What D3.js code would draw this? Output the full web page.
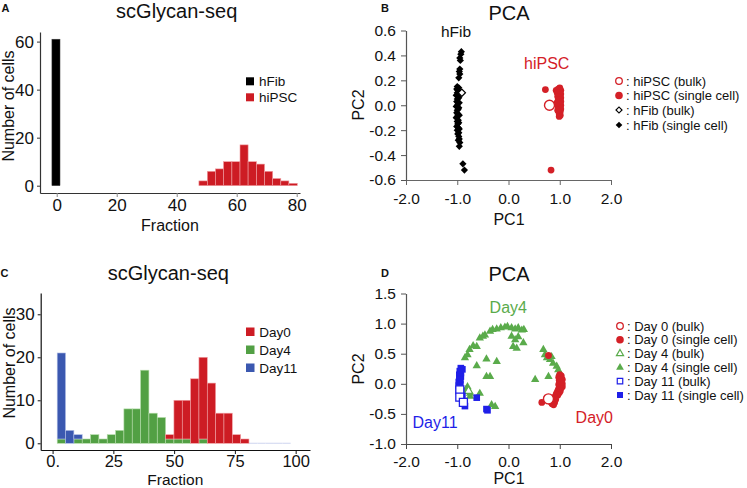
<!DOCTYPE html>
<html><head><meta charset="utf-8">
<script src="https://cdn.jsdelivr.net/npm/d3@7"></script>
<style>
body{margin:0;background:#fff}
svg{display:block}
text{font-family:"Liberation Sans",Arial,sans-serif}
</style>
</head><body>
<svg id="c" width="747" height="488"></svg>
<script>
// ---------------- DATA ----------------
// Panel A: histogram (fraction bins)
const aFibEdges = [-1.6, 1.1];
const aFibCounts = [61];
const aPscEdges = [47.4, 50.2, 52.9, 55.6, 58.4, 61.1, 63.8, 66.6, 69.3, 72.0, 74.7, 77.4, 80.2];
const aPscCounts = [2, 6, 7, 10, 10, 17, 10, 9, 6, 3, 2, 1];
const aXTicks = [0, 20, 40, 60, 80];
const aYTicks = [0, 20, 40, 60];
const aLegend = ["hFib", "hiPSC"];

// Panel B: PCA hFib / hiPSC
const bFibSingle = [[-0.92,0.43],[-0.93,0.41],[-0.95,0.38],[-0.94,0.36],[-0.95,0.29],[-0.96,0.27],[-0.95,0.25],[-0.97,0.22],
  [-1.0,0.15],[-1.01,0.13],[-0.99,0.12],[-1.0,0.10],[-1.02,0.08],[-0.98,0.07],[-1.0,0.05],[-1.01,0.03],[-0.99,0.02],[-1.0,0.0],
  [-1.02,-0.01],[-0.98,-0.03],[-1.0,-0.04],[-1.01,-0.06],[-0.99,-0.07],[-1.0,-0.09],[-1.02,-0.1],[-0.98,-0.12],[-1.0,-0.13],
  [-0.99,-0.15],[-1.01,-0.17],[-0.98,-0.18],[-1.0,-0.2],[-0.97,-0.22],[-0.99,-0.23],[-0.97,-0.25],[-0.96,-0.27],[-0.98,-0.28],
  [-0.95,-0.3],[-0.96,-0.33],[-0.89,-0.47],[-0.86,-0.52],[-0.97,0.14],[-0.96,0.10],[-0.97,0.06],[-0.96,0.02],[-0.97,-0.02],
  [-0.96,-0.08],[-0.97,-0.14],[-0.96,-0.19]];
const bFibBulk = [[-0.91,0.10]];
const bPscSingle = [[0.72,0.126],[0.83,-0.52],[0.93,0.12],[0.97,0.13],[1.0,0.14],[1.02,0.12],[0.95,0.1],[0.99,0.1],[1.02,0.09],
  [0.96,0.07],[1.0,0.07],[1.02,0.06],[0.97,0.04],[1.0,0.04],[1.02,0.03],[0.97,0.01],[1.0,0.01],[1.02,0.0],[0.97,-0.02],
  [1.0,-0.02],[1.02,-0.03],[0.98,-0.05],[1.01,-0.05],[0.99,-0.07],[1.01,-0.08],[0.99,-0.09],[0.96,-0.04],[0.95,0.02]];
const bPscBulk = [[0.80,0.0]];
const pcXTicks = [-2, -1, 0, 1, 2];
const bYTicks = [-0.6, -0.4, -0.2, 0, 0.2, 0.4, 0.6];
const bLegend = [": hiPSC (bulk)", ": hiPSC (single cell)", ": hFib (bulk)", ": hFib (single cell)"];

// Panel C: stacked histogram (bottom -> top: Day4, Day11, Day0)
const cEdges = [1.9,5.33,8.76,12.19,15.62,19.05,22.48,25.91,29.34,32.77,36.2,39.63,43.06,46.49,49.92,53.35,56.78,60.21,63.64,67.07,70.5,73.93,77.36,80.79,84.22,87.65,91.08,94.51,97.94];
const cDay4  = [1,0,1,1,2,1,2,3,8,8,17,7,6,1,1,1,0,1,0,0,0,0,0,0,0,0,0,0];
const cDay11 = [20,3,1,0,0,0,0,0,0,0,0,0,0,0,0,0,0,0,0,0,0,0,0,0,0,0,0,0];
const cDay0  = [0,0,0,0,0,0,0,0,0,0,0,0,0,1,9,9,15,19,14,7,7,2,1,0,0,0,0,0];
const cXTicks = [0, 25, 50, 75, 100];
const cXLabels = ["0.", "25", "50", "75", "100"];
const cYTicks = [0, 10, 20, 30];
const cLegend = ["Day0", "Day4", "Day11"];

// Panel D: PCA time course
const dDay0Single = [[1.0,0.15],[1.03,0.13],[0.98,0.11],[1.02,0.09],[1.05,0.07],[0.99,0.06],[1.03,0.04],[1.0,0.02],[1.05,0.0],
  [0.98,-0.01],[1.02,-0.03],[1.05,-0.05],[0.99,-0.06],[1.02,-0.08],[0.97,-0.1],[1.01,-0.12],[0.95,-0.14],[0.99,-0.15],
  [0.93,-0.17],[0.96,-0.19],[0.9,-0.22],[0.92,-0.26],[0.88,-0.28],[0.9,-0.31],[0.85,-0.33],[0.88,-0.35],[0.82,-0.3],
  [0.65,-0.31],[0.78,0.47]];
const dDay0Bulk = [[0.78,-0.25]];
const dDay4Single = [[-0.85,0.43],[-0.8,0.48],[-0.76,0.57],[-0.69,0.63],[-0.62,0.62],[-0.56,0.76],[-0.5,0.79],[-0.46,0.81],
  [-0.36,0.87],[-0.31,0.9],[-0.23,0.91],[-0.15,0.93],[-0.07,0.94],[-0.02,0.95],[0.06,0.93],[0.13,0.91],[0.19,0.93],[0.26,0.89],
  [0.3,0.9],[0.06,0.79],[0.13,0.73],[0.19,0.78],[0.09,0.62],[0.16,0.59],[0.29,0.68],[-0.8,-0.05],[-0.75,-0.16],[-0.56,-0.16],
  [-0.43,0.12],[-0.36,0.12],[-0.43,0.41],[-0.23,0.37],[-0.62,0.3],[-0.33,-0.35],[-0.26,-0.38],[0.52,0.07],[0.78,0.12],
  [0.68,0.57],[0.71,0.48],[0.81,0.4],[0.87,0.34],[0.94,0.29],[0.97,0.23],[1.0,0.18],[0.75,0.43],[0.84,0.45],[-0.75,-0.21],[-0.83,-0.1]];
const dDay4Bulk = [[-0.78,-0.12]];
const dDay11Single = [[-0.93,0.26],[-0.9,0.24],[-0.95,0.21],[-0.93,0.18],[-0.96,0.15],[-0.93,0.12],[-0.96,0.09],[-0.94,0.06],
  [-0.97,0.03],[-0.94,0.0],[-0.97,-0.03],[-0.95,-0.06],[-0.97,-0.09],[-0.93,-0.12],[-0.85,-0.37],[-0.88,-0.33],[-0.62,-0.23],
  [-0.41,-0.44],[-0.43,-0.42],[-0.9,-0.2]];
const dDay11Bulk = [[-0.95,-0.1],[-0.95,-0.22],[-0.88,-0.31]];
const dYTicks = [-1, -0.5, 0, 0.5, 1, 1.5];
const dLegend = [": Day 0 (bulk)", ": Day 0 (single cell)", ": Day 4 (bulk)", ": Day 4 (single cell)", ": Day 11 (bulk)", ": Day 11 (single cell)"];

// ---------------- STYLE ----------------
const RED = "#cd1c24", RED_L = "#f0a0a4";
const GREEN = "#52a044", GREEN_L = "#b5dcaa";
const BLUE = "#3b58b0", BLUE_L = "#b0bde6";
const PRED = "#d42027", PGREEN = "#5aab4b", PBLUE = "#1f1fe8";

const svg = d3.select("#c");

function styleAxis(g, col, fs) {
  g.select(".domain").attr("stroke", col).attr("stroke-width", 1.2);
  g.selectAll(".tick line").attr("stroke", col).attr("stroke-width", 1);
  g.selectAll(".tick text").attr("fill", "#111").attr("font-size", fs)
    .attr("font-family", '"Liberation Sans",Arial,sans-serif');
}
function txt(x, y, s, opt) {
  const t = svg.append("text").attr("x", x).attr("y", y).text(s)
    .attr("font-size", opt.fs || 14).attr("fill", opt.fill || "#111")
    .attr("text-anchor", opt.anchor || "start");
  if (opt.bold) t.attr("font-weight", "bold");
  if (opt.rot) t.attr("transform", `rotate(-90,${x},${y})`);
  return t;
}

// ---------------- PANEL A ----------------
{
  const x = d3.scaleLinear().domain([-5.57, 81.1]).range([40, 300]);
  const y = d3.scaleLinear().domain([-3.04, 64]).range([193, 32]);
  const g = svg.append("g");
  const fib = aFibCounts.map((c, i) => ({x0: aFibEdges[i], x1: aFibEdges[i+1], c}));
  const psc = aPscCounts.map((c, i) => ({x0: aPscEdges[i], x1: aPscEdges[i+1], c}));
  g.selectAll("rect.f").data(fib).join("rect")
    .attr("x", d => x(d.x0)).attr("width", d => x(d.x1) - x(d.x0))
    .attr("y", d => y(d.c)).attr("height", d => y(0) - y(d.c))
    .attr("fill", "#000").attr("stroke", "#444").attr("stroke-width", 0.5);
  g.selectAll("rect.p").data(psc).join("rect")
    .attr("x", d => x(d.x0)).attr("width", d => x(d.x1) - x(d.x0))
    .attr("y", d => y(d.c)).attr("height", d => y(0) - y(d.c))
    .attr("fill", RED).attr("stroke", RED_L).attr("stroke-width", 0.6);
  const ax = svg.append("g").attr("transform", "translate(0,193)")
    .call(d3.axisBottom(x).tickValues(aXTicks).tickSize(4).tickSizeOuter(0).tickPadding(2));
  styleAxis(ax, "#333", 17);
  ax.selectAll(".tick line").attr("stroke", "#888");
  const ay = svg.append("g").attr("transform", "translate(40,0)")
    .call(d3.axisLeft(y).tickValues(aYTicks).tickSize(3).tickSizeOuter(0).tickPadding(3));
  styleAxis(ay, "#333", 17);
  txt(176.7, 17.5, "scGlycan-seq", {fs: 20, anchor: "middle"});
  txt(170, 230.5, "Fraction", {fs: 16, anchor: "middle"});
  txt(14, 106, "Number of cells", {fs: 16, anchor: "middle", rot: true});
  txt(1.5, 11.5, "A", {fs: 11, bold: true});
  const cols = ["#000", RED];
  aLegend.forEach((l, i) => {
    svg.append("rect").attr("x", 246).attr("y", 77.3 + i * 16).attr("width", 8).attr("height", 8).attr("fill", cols[i]);
    txt(259, 86 + i * 16, l, {fs: 13.5});
  });
}

// ---------------- PANEL C ----------------
{
  const x = d3.scaleLinear().domain([-4.89, 105.9]).range([40.7, 310]);
  const y = d3.scaleLinear().domain([-1.56, 34.95]).range([450, 293]);
  const bins = cDay4.map((v, i) => ({x0: cEdges[i], x1: cEdges[i+1], Day4: v, Day11: cDay11[i], Day0: cDay0[i]}));
  const stack = d3.stack().keys(["Day4", "Day11", "Day0"])(bins);
  const fills = {Day4: GREEN, Day11: BLUE, Day0: RED};
  const strokes = {Day4: GREEN_L, Day11: BLUE_L, Day0: RED_L};
  // zero-count bins (faint outline at baseline)
  svg.append("g").selectAll("line").data(bins.filter(b => b.Day4 + b.Day11 + b.Day0 === 0)).join("line")
    .attr("x1", d => x(d.x0)).attr("x2", d => x(d.x1)).attr("y1", y(0)).attr("y2", y(0))
    .attr("stroke", "#d6dcf2").attr("stroke-width", 1.2);
  stack.forEach(layer => {
    svg.append("g").selectAll("rect").data(layer.filter(d => d[1] > d[0])).join("rect")
      .attr("x", d => x(d.data.x0)).attr("width", d => x(d.data.x1) - x(d.data.x0))
      .attr("y", d => y(d[1])).attr("height", d => y(d[0]) - y(d[1]))
      .attr("fill", fills[layer.key]).attr("stroke", strokes[layer.key]).attr("stroke-width", 0.6);
  });
  const ax = svg.append("g").attr("transform", "translate(0,450)")
    .call(d3.axisBottom(x).tickValues(cXTicks).tickFormat((d, i) => cXLabels[i]).tickSize(4).tickSizeOuter(0).tickPadding(1.5));
  styleAxis(ax, "#111", 16.5);
  const ay = svg.append("g").attr("transform", "translate(40.7,0)")
    .call(d3.axisLeft(y).tickValues(cYTicks).tickSize(3).tickSizeOuter(0).tickPadding(3));
  styleAxis(ay, "#111", 17);
  txt(168.3, 279.5, "scGlycan-seq", {fs: 20, anchor: "middle"});
  txt(175.3, 484.5, "Fraction", {fs: 15.5, anchor: "middle"});
  txt(14.5, 363, "Number of cells", {fs: 16, anchor: "middle", rot: true});
  txt(0.5, 277, "C", {fs: 11, bold: true});
  const cols = [RED, GREEN, BLUE];
  cLegend.forEach((l, i) => {
    svg.append("rect").attr("x", 246).attr("y", 327.5 + i * 18).attr("width", 8.5).attr("height", 8.5).attr("fill", cols[i]);
    txt(259.3, 337 + i * 18, l, {fs: 13.5});
  });
}

// ---------------- PANEL B ----------------
const diamond = d3.symbol(d3.symbolSquare, 26);
{
  const x = d3.scaleLinear().domain([-2, 2]).range([406, 611]);
  const y = d3.scaleLinear().domain([-0.6, 0.6]).range([180, 30.5]);
  const ax = svg.append("g").attr("transform", "translate(0,180)")
    .call(d3.axisBottom(x).tickValues(pcXTicks).tickFormat(d => d.toFixed(1)).tickSize(5).tickSizeOuter(0).tickPadding(8));
  styleAxis(ax, "#666", 15.5);
  const ay = svg.append("g").attr("transform", "translate(406,0)")
    .call(d3.axisLeft(y).tickValues(bYTicks).tickFormat(d => d.toFixed(1)).tickSize(5).tickSizeOuter(0).tickPadding(5));
  styleAxis(ay, "#555", 15.5);
  const g = svg.append("g");
  g.selectAll("path.fs").data(bFibSingle).join("path")
    .attr("d", diamond).attr("transform", d => `translate(${x(d[0])},${y(d[1])}) rotate(45)`).attr("fill", "#000");
  g.selectAll("path.fb").data(bFibBulk).join("path")
    .attr("d", diamond).attr("transform", d => `translate(${x(d[0])},${y(d[1])}) rotate(45)`)
    .attr("fill", "#fff").attr("stroke", "#000").attr("stroke-width", 1.2);
  g.selectAll("circle.ps").data(bPscSingle).join("circle")
    .attr("cx", d => x(d[0])).attr("cy", d => y(d[1])).attr("r", 3.4).attr("fill", PRED);
  g.selectAll("circle.pb").data(bPscBulk).join("circle")
    .attr("cx", d => x(d[0])).attr("cy", d => y(d[1])).attr("r", 5).attr("fill", "#fff")
    .attr("stroke", PRED).attr("stroke-width", 1.4);
  txt(509, 20, "PCA", {fs: 20, anchor: "middle"});
  txt(509, 225, "PC1", {fs: 16, anchor: "middle"});
  txt(364, 105, "PC2", {fs: 16, anchor: "middle", rot: true});
  txt(456, 37, "hFib", {fs: 15.5, anchor: "middle"});
  txt(546.7, 69, "hiPSC", {fs: 16, anchor: "middle", fill: PRED});
  txt(381, 12, "B", {fs: 11, bold: true});
  const ly = [81, 95.5, 110, 125];
  svg.append("circle").attr("cx", 619).attr("cy", ly[0]).attr("r", 3.3).attr("fill", "#fff").attr("stroke", PRED).attr("stroke-width", 1.3);
  svg.append("circle").attr("cx", 619).attr("cy", ly[1]).attr("r", 3.8).attr("fill", PRED);
  svg.append("path").attr("d", d3.symbol(d3.symbolSquare, 18)).attr("transform", `translate(619,${ly[2]}) rotate(45)`)
    .attr("fill", "#fff").attr("stroke", "#000").attr("stroke-width", 1.2);
  svg.append("path").attr("d", d3.symbol(d3.symbolSquare, 22)).attr("transform", `translate(619,${ly[3]}) rotate(45)`).attr("fill", "#000");
  bLegend.forEach((l, i) => txt(626, ly[i] + 4.5, l, {fs: 13}));
}

// ---------------- PANEL D ----------------
{
  const x = d3.scaleLinear().domain([-2, 2]).range([406, 611]);
  const y = d3.scaleLinear().domain([-1, 1.5]).range([444, 293.5]);
  const ax = svg.append("g").attr("transform", "translate(0,444)")
    .call(d3.axisBottom(x).tickValues(pcXTicks).tickFormat(d => d.toFixed(1)).tickSize(5).tickSizeOuter(0).tickPadding(7));
  styleAxis(ax, "#444", 15.5);
  const ay = svg.append("g").attr("transform", "translate(406,0)")
    .call(d3.axisLeft(y).tickValues(dYTicks).tickFormat(d => d.toFixed(1)).tickSize(5).tickSizeOuter(0).tickPadding(5));
  styleAxis(ay, "#555", 15.5);
  const g = svg.append("g");
  const tri = d3.symbol(d3.symbolTriangle, 30);
  const sq = d3.symbol(d3.symbolSquare, 44);
  const sqB = d3.symbol(d3.symbolSquare, 64);
  g.selectAll("path.t").data(dDay4Single).join("path")
    .attr("d", tri).attr("transform", d => `translate(${x(d[0])},${y(d[1])})`).attr("fill", PGREEN);
  g.selectAll("path.tb").data(dDay4Bulk).join("path")
    .attr("d", tri).attr("transform", d => `translate(${x(d[0])},${y(d[1])})`).attr("fill", "#fff")
    .attr("stroke", PGREEN).attr("stroke-width", 1.2);
  g.selectAll("circle.r").data(dDay0Single).join("circle")
    .attr("cx", d => x(d[0])).attr("cy", d => y(d[1])).attr("r", 3.4).attr("fill", PRED);
  g.selectAll("circle.rb").data(dDay0Bulk).join("circle")
    .attr("cx", d => x(d[0])).attr("cy", d => y(d[1])).attr("r", 5).attr("fill", "#fff")
    .attr("stroke", PRED).attr("stroke-width", 1.4);
  g.selectAll("path.s").data(dDay11Single).join("path")
    .attr("d", sq).attr("transform", d => `translate(${x(d[0])},${y(d[1])})`).attr("fill", PBLUE);
  g.selectAll("path.sb").data(dDay11Bulk).join("path")
    .attr("d", sqB).attr("transform", d => `translate(${x(d[0])},${y(d[1])})`).attr("fill", "#fff")
    .attr("stroke", PBLUE).attr("stroke-width", 1.3);
  txt(509, 281, "PCA", {fs: 20, anchor: "middle"});
  txt(509, 484, "PC1", {fs: 16, anchor: "middle"});
  txt(364, 369, "PC2", {fs: 16, anchor: "middle", rot: true});
  txt(508.3, 312.5, "Day4", {fs: 16, anchor: "middle", fill: PGREEN});
  txt(435, 427.5, "Day11", {fs: 16, anchor: "middle", fill: PBLUE});
  txt(594.3, 422.5, "Day0", {fs: 16, anchor: "middle", fill: PRED});
  txt(381, 277, "D", {fs: 11, bold: true});
  const ly = [326, 339.8, 353.6, 367.4, 381.2, 395];
  svg.append("circle").attr("cx", 620).attr("cy", ly[0]).attr("r", 3.3).attr("fill", "#fff").attr("stroke", PRED).attr("stroke-width", 1.3);
  svg.append("circle").attr("cx", 620).attr("cy", ly[1]).attr("r", 3.8).attr("fill", PRED);
  svg.append("path").attr("d", d3.symbol(d3.symbolTriangle, 22)).attr("transform", `translate(620,${ly[2]})`)
    .attr("fill", "#fff").attr("stroke", PGREEN).attr("stroke-width", 1.2);
  svg.append("path").attr("d", d3.symbol(d3.symbolTriangle, 26)).attr("transform", `translate(620,${ly[3]})`).attr("fill", PGREEN);
  svg.append("path").attr("d", d3.symbol(d3.symbolSquare, 30)).attr("transform", `translate(620,${ly[4]})`)
    .attr("fill", "#fff").attr("stroke", PBLUE).attr("stroke-width", 1.2);
  svg.append("path").attr("d", d3.symbol(d3.symbolSquare, 36)).attr("transform", `translate(620,${ly[5]})`).attr("fill", PBLUE);
  dLegend.forEach((l, i) => txt(627, ly[i] + 4.5, l, {fs: 13}));
}
</script>
</body></html>
